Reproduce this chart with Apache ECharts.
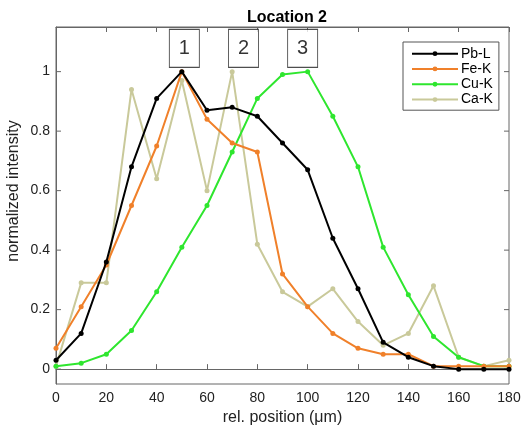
<!DOCTYPE html>
<html>
<head>
<meta charset="utf-8">
<script src="https://cdn.jsdelivr.net/npm/echarts@6/dist/echarts.min.js"></script>
<style>html,body{margin:0;padding:0;background:#fff;}#c{width:529px;height:433px;}</style>
</head>
<body>
<div id="c"></div>
<script>
const positions = [0,10,20,30,40,50,60,70,80,90,100,110,120,130,140,150,160,170,180];
const pbL = [0.03,0.12,0.36,0.68,0.91,1.00,0.87,0.88,0.85,0.76,0.67,0.44,0.27,0.09,0.04,0.01,0.00,0.00,0.00];
const feK = [0.07,0.21,0.35,0.55,0.75,1.00,0.84,0.76,0.73,0.32,0.21,0.12,0.07,0.05,0.05,0.01,0.01,0.01,0.01];
const cuK = [0.01,0.02,0.05,0.13,0.26,0.41,0.55,0.73,0.91,0.99,1.00,0.85,0.68,0.41,0.25,0.11,0.04,0.01,0.01];
const caK = [0.01,0.29,0.29,0.94,0.64,0.97,0.60,1.00,0.42,0.26,0.21,0.27,0.16,0.08,0.12,0.28,0.04,0.01,0.03];
const xTicks = [0,20,40,60,80,100,120,140,160,180];
const yTicks = [0,0.2,0.4,0.6,0.8,1];
const annotLabels = ['1','2','3'];
const annotX = [51,74.5,98];
const annotY = 1.078;

const seriesNames = ['Pb-L','Fe-K','Cu-K','Ca-K'];
const seriesData = [pbL, feK, cuK, caK];
const colors = ['#000000','#f0802a','#2ee62e','#c9c99a'];

const chart = echarts.init(document.getElementById('c'));
const axisColor = '#666';
const font = 'Helvetica, Arial, "Liberation Sans", sans-serif';

const lineSeries = seriesNames.map((n,i)=>({
  name: n, type: 'line',
  data: positions.map((x,j)=>[x, seriesData[i][j]]),
  symbol: 'circle', symbolSize: 5,
  lineStyle: {width: 2, color: colors[i]},
  itemStyle: {color: colors[i]},
  z: 10 - i,
  animation: false
}));

const annotSeries = {
  type: 'scatter',
  data: annotX.map((x,i)=>({value:[x, annotY], name: annotLabels[i]})),
  symbol: 'rect', symbolSize: [30,38],
  itemStyle: {color:'#fff', borderColor:'#222', borderWidth:1},
  label: {show:true, position:'inside', formatter: p=>p.name, color:'#000', fontSize:20, fontFamily: font},
  z: 20, silent: true, animation: false
};

const yTickSeries = {
  type: 'custom', silent: true, animation: false,
  data: yTicks.map(v=>[v]),
  renderItem: function(params, api){
    const v = api.value(0);
    const pl = api.coord([0, v]);
    const pr = api.coord([180, v]);
    const label = String(Math.round(v*10)/10);
    return {type:'group', children:[
      {type:'line', shape:{x1:pl[0], y1:pl[1], x2:pl[0]+5, y2:pl[1]}, style:{stroke: axisColor, lineWidth:1}},
      {type:'line', shape:{x1:pr[0]-5, y1:pr[1], x2:pr[0], y2:pr[1]}, style:{stroke: axisColor, lineWidth:1}},
      {type:'text', x: pl[0]-6, y: pl[1], style:{text: label, align:'right', verticalAlign:'middle', fontSize:14, fill:'#222', fontFamily: font}}
    ]};
  }
};

chart.setOption({
  animation: false,
  title: {text: 'Location 2', left: 282, textAlign: 'center', top: 5,
    textStyle: {fontSize: 16, fontWeight: 'bold', color:'#000', fontFamily: font}},
  grid: {left: 56, right: 20, top: 27, bottom: 49, show: true, borderColor: axisColor, borderWidth: 1},
  legend: {
    data: seriesNames, orient: 'vertical', left: 403, top: 42,
    width: 98, padding: [4,6,3,8], itemGap: 0, itemWidth: 46, itemHeight: 6,
    borderColor: '#555', borderWidth: 1, backgroundColor:'#fff',
    textStyle: {fontSize: 14, lineHeight: 15.3, color:'#000', fontFamily: font, padding:[0,0,0,-2]}
  },
  xAxis: [{
    type: 'value', min: 0, max: 180, interval: 20,
    name: 'rel. position (μm)', nameLocation: 'middle', nameGap: 23,
    nameTextStyle: {fontSize: 16, color:'#222', fontFamily: font},
    axisLine: {show: true, lineStyle:{color: axisColor}},
    axisTick: {show: true, inside: true, length: 5, lineStyle:{color: axisColor}},
    axisLabel: {fontSize: 14, color:'#222', margin: 7, fontFamily: font},
    splitLine: {show: false}
  },{
    type: 'value', min: 0, max: 180, interval: 20, position: 'top',
    axisLine: {show: true, lineStyle:{color: axisColor}},
    axisTick: {show: true, inside: true, length: 5, lineStyle:{color: axisColor}},
    axisLabel: {show: false}, splitLine: {show: false}
  }],
  yAxis: [{
    type: 'value', min: -0.05, max: 1.15,
    axisLine: {show: true, onZero: false, lineStyle:{color: axisColor}},
    axisTick: {show: false},
    axisLabel: {show: false},
    splitLine: {show: false}
  }],
  graphic: [{type:'text', x: 14, y: 191, rotation: Math.PI/2,
    style:{text:'normalized intensity', align:'center', verticalAlign:'middle', fontSize:16, fill:'#222', fontFamily: font}}],
  series: lineSeries.concat([annotSeries, yTickSeries])
});
</script>
</body>
</html>
